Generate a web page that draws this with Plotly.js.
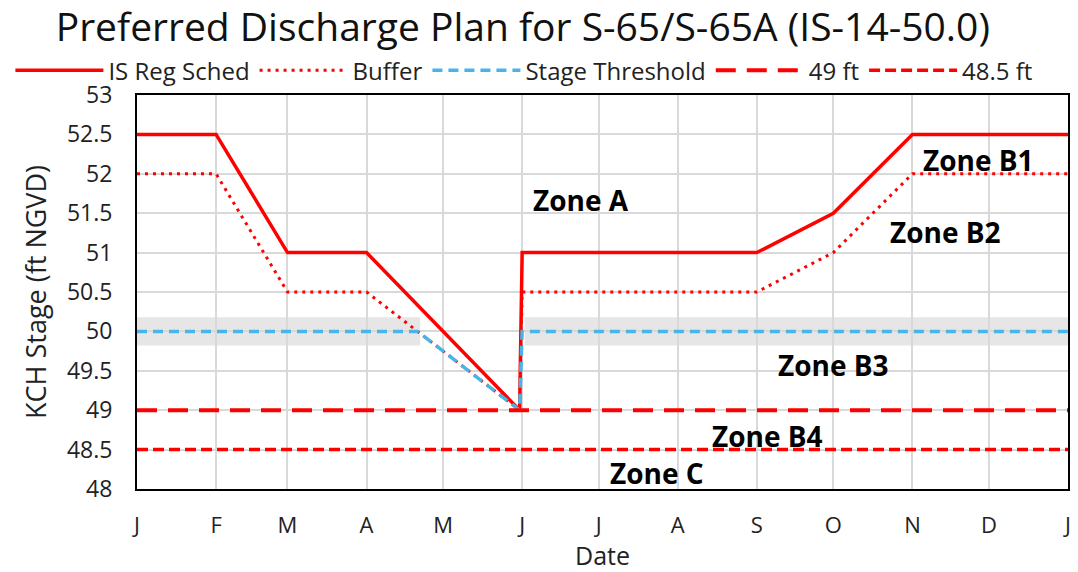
<!DOCTYPE html>
<html>
<head>
<meta charset="utf-8">
<script src="https://cdn.plot.ly/plotly-3.0.1.min.js"></script>
<style>html,body{margin:0;padding:0;background:#fff;}#chart{width:1078px;height:572px;}</style>
</head>
<body>
<div id="chart"></div>
<script>
// ---- data ----
const schedDates = ['2001-01-01','2001-02-01','2001-03-01','2001-04-01','2001-05-31','2001-06-01','2001-09-01','2001-10-01','2001-11-01','2002-01-01'];
const schedStage = [52.5, 52.5, 51, 51, 49, 51, 51, 51.5, 52.5, 52.5];
const bufferDates = ['2001-01-01','2001-02-01','2001-03-01','2001-04-01','2001-05-31','2001-06-01','2001-09-01','2001-10-01','2001-11-01','2002-01-01'];
const bufferStage = [52, 52, 50.5, 50.5, 49, 50.5, 50.5, 51, 52, 52];
const thresholdDates = ['2001-01-01','2001-04-21','2001-05-31','2001-06-01','2002-01-01'];
const thresholdStage = [50, 50, 49, 50, 50];
const line49Dates = ['2001-01-01','2002-01-01'];
const line49Stage = [49, 49];
const line485Dates = ['2001-01-01','2002-01-01'];
const line485Stage = [48.5, 48.5];
const monthTicks = ['2001-01-01','2001-02-01','2001-03-01','2001-04-01','2001-05-01','2001-06-01','2001-07-01','2001-08-01','2001-09-01','2001-10-01','2001-11-01','2001-12-01','2002-01-01'];
const monthLabels = ['J','F','M','A','M','J','J','A','S','O','N','D','J'];
const yTicks = [48, 48.5, 49, 49.5, 50, 50.5, 51, 51.5, 52, 52.5, 53];
const yTickLabels = ['48','48.5','49','49.5','50','50.5','51','51.5','52','52.5','53'];
// threshold tolerance band segments
const bandStart = ['2000-12-29', '2001-06-02'];
const bandEnd = ['2001-04-22', '2002-01-01'];
const bandLow = 49.82, bandHigh = 50.18;
// zone labels
const zoneNames = ['Zone A','Zone B1','Zone B2','Zone B3','Zone B4','Zone C'];
const zoneDates = ['2001-06-24','2001-11-27','2001-11-14','2001-10-01','2001-09-05','2001-07-24'];
const zoneStage = [51.67, 52.18, 51.26, 49.57, 48.67, 48.2];

const FONT = 'Open Sans, sans-serif';
const RED = '#FF0000';
const BLUE = '#4BB4E6';

const traces = [
  {x: schedDates, y: schedStage, name: 'IS Reg Sched', mode: 'lines', line: {color: RED, width: 3.5}},
  {x: bufferDates, y: bufferStage, name: 'Buffer', mode: 'lines', line: {color: RED, width: 3, dash: '3px,5px'}},
  {x: thresholdDates, y: thresholdStage, name: 'Stage Threshold', mode: 'lines', line: {color: BLUE, width: 3.5, dash: '10px,6px'}},
  {x: line49Dates, y: line49Stage, name: '49 ft', mode: 'lines', line: {color: RED, width: 4, dash: '20px,11px'}},
  {x: line485Dates, y: line485Stage, name: '48.5 ft', mode: 'lines', line: {color: RED, width: 3.5, dash: '11px,5px'}}
];

const shapes = bandStart.map((s, i) => ({
  type: 'rect', xref: 'x', yref: 'y', x0: s, x1: bandEnd[i], y0: bandLow, y1: bandHigh,
  fillcolor: '#E6E6E6', line: {width: 0}, layer: 'below'
}));

const annotations = zoneNames.map((t, i) => ({
  x: zoneDates[i], y: zoneStage[i], xref: 'x', yref: 'y', text: '<b>' + t + '</b>',
  showarrow: false, font: {family: FONT, size: 28, color: '#000'}
}));

const layout = {
  width: 1078, height: 572,
  margin: {l: 135, r: 10, t: 95, b: 83},
  paper_bgcolor: '#fff', plot_bgcolor: '#fff',
  font: {family: FONT, color: '#222'},
  title: {text: 'Preferred Discharge Plan for S-65/S-65A (IS-14-50.0)', font: {family: FONT, size: 39, color: '#111'},
          x: 0.485, xanchor: 'center', y: 0.953, yref: 'container', yanchor: 'middle'},
  showlegend: true,
  legend: {orientation: 'h', x: -0.136, xanchor: 'left', y: 1.005, yanchor: 'bottom', itemwidth: 88,
           font: {family: FONT, size: 24, color: '#222'}, bgcolor: 'rgba(0,0,0,0)', tracegroupgap: 0},
  xaxis: {
    type: 'date', range: ['2001-01-01', '2002-01-01'],
    tickmode: 'array', tickvals: monthTicks, ticktext: monthLabels,
    showgrid: true, gridcolor: '#D9D9D9', gridwidth: 2,
    showline: true, linecolor: '#000', linewidth: 2, mirror: true,
    ticks: '', ticklabelstandoff: 16,
    tickfont: {family: FONT, size: 22, color: '#222'},
    title: {text: 'Date', font: {family: FONT, size: 25, color: '#222'}, standoff: 12},
    zeroline: false
  },
  yaxis: {
    range: [48, 53], tickmode: 'array', tickvals: yTicks, ticktext: yTickLabels,
    showgrid: true, gridcolor: '#D9D9D9', gridwidth: 2,
    showline: true, linecolor: '#000', linewidth: 2, mirror: true,
    ticks: '', ticklabelstandoff: 18,
    tickfont: {family: FONT, size: 23, color: '#222'},
    title: {text: 'KCH Stage (ft NGVD)', font: {family: FONT, size: 27, color: '#222'}, standoff: 12},
    zeroline: false
  },
  shapes: shapes,
  annotations: annotations
};

Plotly.newPlot('chart', traces, layout, {displayModeBar: false, staticPlot: true});
</script>
</body>
</html>
